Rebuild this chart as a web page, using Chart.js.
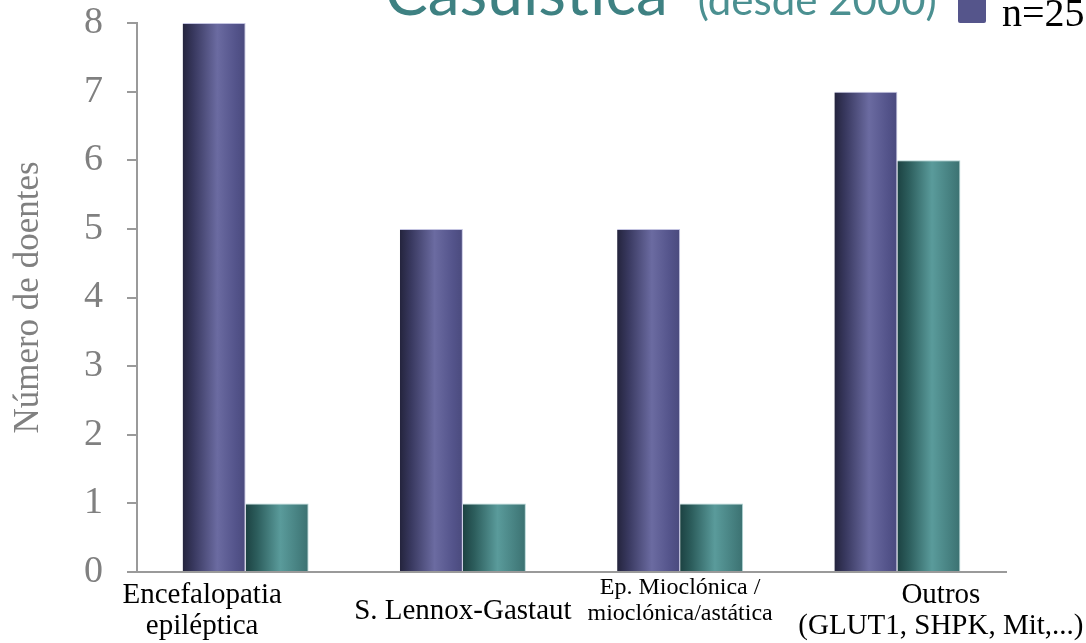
<!DOCTYPE html>
<html lang="pt">
<head>
<meta charset="utf-8">
<title>Casuística</title>
<script src="https://cdn.jsdelivr.net/npm/chart.js@4.4.1/dist/chart.umd.min.js"></script>
<style>
    html, body { margin: 0; padding: 0; background: #fff; overflow: hidden; }
    #wrap { position: relative; width: 1086px; height: 643px; overflow: hidden; }
    #chart { position: absolute; left: 0; top: 0; }
    .titulo {
        position: absolute; left: 385px; top: -41px; white-space: nowrap;
        font-family: Lato, "Open Sans", sans-serif; font-size: 64px; line-height: 64px;
        color: #3e8182;
    }
    .titulo small { font-size: 42px; color: #4b9091; margin-left: 30px; }
    #legenda {
        position: absolute; left: 958px; top: -5px; display: flex; white-space: nowrap;
        font-family: "Liberation Serif", serif; font-size: 40px; line-height: 36px; color: #000;
    }
    #legenda .item { display: flex; align-items: center; margin-right: 40px; }
    #legenda .cor { display: inline-block; width: 28px; height: 26px; margin-right: 16px; border-radius: 2px; position: relative; top: -3px; }
</style>
</head>
<body>
<div id="wrap">
    <canvas id="chart" width="1086" height="643"></canvas>
    <div class="titulo">Casuística<small>(desde 2000)</small></div>
    <div id="legenda"></div>
</div>
<script>
// Categorias e valores
const categorias = [
    ['Encefalopatia', 'epiléptica'],
    'S. Lennox-Gastaut',
    ['Ep. Mioclónica /', 'mioclónica/astática', ''],
    ['Outros', '(GLUT1, SHPK, Mit,...)']
];
const doentesA = [8, 5, 5, 7];
const doentesB = [1, 1, 1, 6];
const legendas = ['n=25', 'n=9'];
const yMin = 0;
const yMax = 8;
const yPasso = 1;

const CAT_PCT = 0.58;
// desvio horizontal de cada rótulo, em espaços (negativo = para a esquerda)
const desvioRotulo = [-12, 0, 0, 12];

// Gradientes "cilíndricos" das barras
const stopsA = [[0, '#24243d'], [0.18, '#393960'], [0.55, '#6b6ba1'], [0.85, '#53538a'], [1, '#4a4a7d']];
const stopsB = [[0, '#1c4242'], [0.18, '#2c5d5c'], [0.55, '#5a9b9b'], [0.85, '#457f7f'], [1, '#3b7171']];

function gradiente(stops) {
    return (ctx) => {
        const chart = ctx.chart;
        const xs = chart.scales.x;
        if (!xs || ctx.type !== 'data') return stops[2][1];
        const n = chart.data.labels.length;
        const nSets = chart.data.datasets.length;
        const catW = (xs.right - xs.left) / n;
        const barW = catW * CAT_PCT / nSets;
        const left = xs.getPixelForValue(ctx.dataIndex) - catW * CAT_PCT / 2 + ctx.datasetIndex * barW;
        if (!Number.isFinite(left) || !Number.isFinite(barW) || barW <= 0) return stops[2][1];
        const g = chart.ctx.createLinearGradient(left, 0, left + barW, 0);
        stops.forEach(([p, c]) => g.addColorStop(p, c));
        return g;
    };
}

const eixo = '#9a9a9a';

const chart = new Chart(document.getElementById('chart'), {
    type: 'bar',
    data: {
        labels: categorias,
        datasets: [{
            label: legendas[0],
            data: doentesA,
            backgroundColor: gradiente(stopsA),
            borderColor: 'rgba(190, 190, 222, 0.9)',
            borderWidth: { top: 1, right: 1, left: 0, bottom: 0 },
            swatch: '#55558b'
        }, {
            label: legendas[1],
            data: doentesB,
            backgroundColor: gradiente(stopsB),
            borderColor: 'rgba(170, 208, 208, 0.9)',
            borderWidth: { top: 1, right: 1, left: 0, bottom: 0 },
            swatch: '#4a8c8c'
        }]
    },
    options: {
        responsive: false,
        animation: false,
        devicePixelRatio: 1,
        categoryPercentage: CAT_PCT,
        barPercentage: 1,
        layout: { padding: { left: 8, right: 80, top: 23, bottom: 0 } },
        plugins: {
            legend: { display: false },
            tooltip: { enabled: false }
        },
        scales: {
            x: {
                grid: { display: false, drawTicks: false },
                border: { color: eixo, width: 2 },
                ticks: {
                    color: '#000',
                    padding: 16,
                    crossAlign: 'center',
                    maxRotation: 0,
                    autoSkip: false,
                    callback: function (value, index) {
                        const d = desvioRotulo[index] || 0;
                        const esp = ' '.repeat(Math.abs(d));
                        return [].concat(this.getLabelForValue(value))
                            .map((l) => (l === '' ? l : d < 0 ? l + esp : esp + l));
                    },
                    font: (ctx) => ({
                        family: '"Liberation Serif", serif',
                        size: ctx.index === 2 ? 24 : 29,
                        lineHeight: 1.07
                    })
                },
                afterFit: (s) => {
                    s.height = 71;
                    s.paddingLeft = 0;
                    s.paddingRight = 0;
                }
            },
            y: {
                min: yMin,
                max: yMax,
                ticks: {
                    stepSize: yPasso,
                    color: '#808080',
                    padding: 24,
                    font: { family: '"Liberation Serif", serif', size: 38 }
                },
                grid: { drawOnChartArea: false, tickLength: 10, color: eixo, lineWidth: 2 },
                border: { color: eixo, width: 2 },
                title: {
                    display: true,
                    text: 'Número de doentes',
                    color: '#808080',
                    padding: { top: 0, bottom: 0 },
                    font: { family: '"Liberation Serif", serif', size: 35 }
                },
                afterFit: (s) => {
                    s.width = 129;
                    // o topo da área do gráfico fica no "8"
                    s.paddingTop = 0;
                    s.paddingBottom = 0;
                }
            }
        }
    }
});

// Legenda em HTML a partir das séries
const legenda = document.getElementById('legenda');
chart.data.datasets.forEach((ds) => {
    const item = document.createElement('span');
    item.className = 'item';
    const cor = document.createElement('span');
    cor.className = 'cor';
    cor.style.background = ds.swatch;
    item.appendChild(cor);
    item.appendChild(document.createTextNode(ds.label));
    legenda.appendChild(item);
});
</script>
</body>
</html>
